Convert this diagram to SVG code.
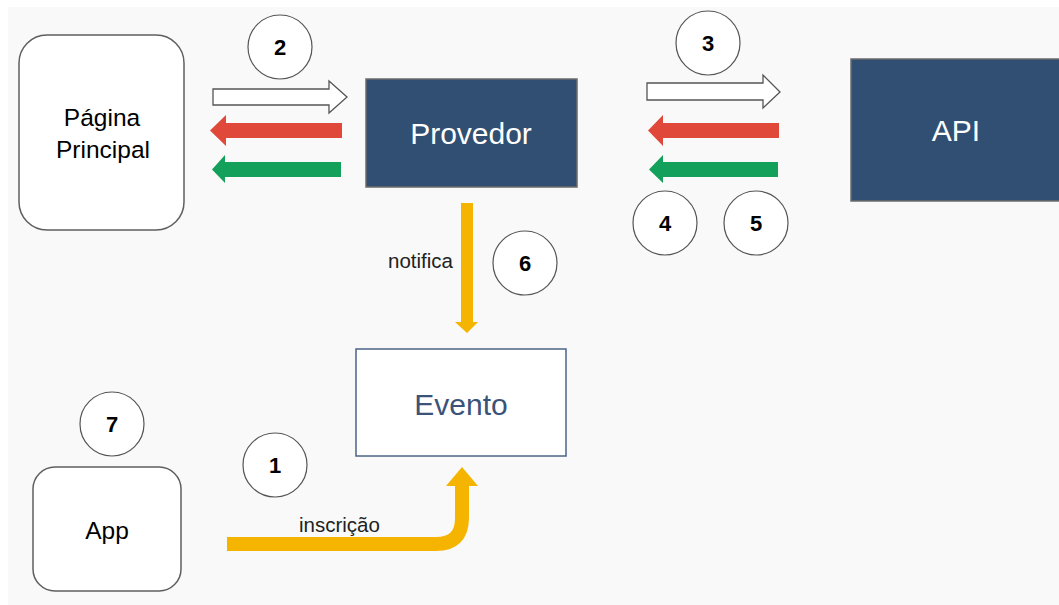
<svg xmlns="http://www.w3.org/2000/svg" width="1059" height="605" viewBox="0 0 1059 605">
<style>
text{font-family:"Liberation Sans",Arial,sans-serif;}
.rnd{fill:#ffffff;stroke:#5f5f5f;stroke-width:1.5;}
.dark{fill:#314f72;stroke:#6b6b6b;stroke-width:1.5;}
.wt{fill:#ffffff;font-size:30px;text-anchor:middle;}
.bt{fill:#000000;font-size:24.5px;text-anchor:middle;}
.num circle{fill:#ffffff;stroke:#555555;stroke-width:1.2;}
.num text{fill:#000000;font-size:22px;font-weight:bold;text-anchor:middle;}
.lbl{fill:#222222;font-size:20.5px;}
.red{fill:#e0483a;}
.green{fill:#12a05a;}
.yel{fill:#f5b400;}
.wa{fill:#ffffff;stroke:#555555;stroke-width:1.3;}
</style>
<rect x="0" y="0" width="1059" height="605" fill="#ffffff"/>
<rect x="8" y="7" width="1051" height="598" fill="#f9f9f9"/>

<g id="connectors">
  <path class="wa" d="M213,89 H329 V81 L347,97 L329,113 V105 H213 Z"/>
  <path class="red" d="M342,123 V138 H226 V146 L210,130.5 L226,115 V123 Z"/>
  <path class="green" d="M341,162 V177 H225 V183 L212,169.5 L225,155 V162 Z"/>
  <path class="wa" d="M647,83 H763 V75 L780,92 L763,108 V100 H647 Z"/>
  <path class="red" d="M779,123 V138 H663 V146 L648,130.5 L663,115 V123 Z"/>
  <path class="green" d="M778,162 V177 H663 V183 L649,169.5 L663,155 V162 Z"/>
  <path class="yel" d="M461,203 H473 V322 H478 L467,333 L455,322 H461 Z"/>
  <text class="lbl" x="388" y="268">notifica</text>
  <path d="M227,544 H436 Q462,544 462,518 V484" fill="none" stroke="#f5b400" stroke-width="14"/>
  <path class="yel" d="M446,486 L462,467 L478,486 Z"/>
  <text class="lbl" x="299" y="532">inscrição</text>
</g>

<g id="pagina">
  <rect class="rnd" x="19" y="35" width="165" height="195" rx="28"/>
  <text class="bt" x="102" y="126">Página</text>
  <text class="bt" x="103" y="158">Principal</text>
</g>
<g id="provedor">
  <rect class="dark" x="366" y="79" width="211" height="108"/>
  <text class="wt" x="471" y="144">Provedor</text>
</g>
<g id="api">
  <rect class="dark" x="851" y="59" width="215" height="142"/>
  <text class="wt" x="956" y="141">API</text>
</g>
<g id="evento">
  <rect x="356" y="349" width="210" height="107" fill="#ffffff" stroke="#4c6385" stroke-width="1.5"/>
  <text x="461" y="415" font-size="30" fill="#3b5378" text-anchor="middle">Evento</text>
</g>
<g id="app">
  <rect class="rnd" x="33" y="467" width="148" height="124" rx="22"/>
  <text class="bt" x="107" y="539">App</text>
</g>

<g id="n2" class="num"><circle cx="280" cy="47" r="32"/><text x="280" y="55">2</text></g>
<g id="n3" class="num"><circle cx="708" cy="43" r="32"/><text x="708" y="51">3</text></g>
<g id="n4" class="num"><circle cx="665" cy="223" r="32"/><text x="665" y="231">4</text></g>
<g id="n5" class="num"><circle cx="756" cy="223" r="32"/><text x="756" y="231">5</text></g>
<g id="n6" class="num"><circle cx="525" cy="263" r="32"/><text x="525" y="271">6</text></g>
<g id="n7" class="num"><circle cx="112" cy="424" r="32"/><text x="112" y="432">7</text></g>
<g id="n1" class="num"><circle cx="275" cy="465" r="32"/><text x="275" y="473">1</text></g>
</svg>
